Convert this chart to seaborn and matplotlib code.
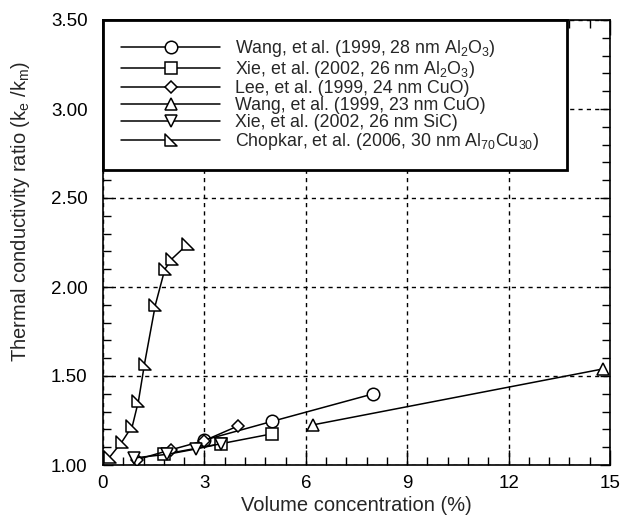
import matplotlib
matplotlib.use("Agg")
import matplotlib.pyplot as plt
from matplotlib.ticker import MultipleLocator, FormatStrFormatter
from matplotlib.path import Path
import seaborn as sns
import pandas as pd

# ---- data ----
wang_al2o3_x = [3.0, 5.0, 8.0]
wang_al2o3_y = [1.14, 1.245, 1.40]
xie_al2o3_x = [1.8, 3.5, 5.0]
xie_al2o3_y = [1.06, 1.12, 1.175]
lee_cuo_x = [1.0, 2.0, 3.0, 4.0]
lee_cuo_y = [1.03, 1.085, 1.137, 1.22]
wang_cuo_x = [6.2, 14.8]
wang_cuo_y = [1.225, 1.54]
xie_sic_x = [0.93, 1.9, 2.75, 3.5]
xie_sic_y = [1.04, 1.06, 1.09, 1.12]
chopkar_x = [0.2, 0.56, 0.87, 1.05, 1.23, 1.55, 1.83, 2.05, 2.5]
chopkar_y = [1.045, 1.13, 1.22, 1.36, 1.57, 1.90, 2.10, 2.16, 2.24]

labels = [
    r"Wang, et al. (1999, 28 nm Al$\mathregular{_2}$O$\mathregular{_3}$)",
    r"Xie, et al. (2002, 26 nm Al$\mathregular{_2}$O$\mathregular{_3}$)",
    "Lee, et al. (1999, 24 nm CuO)",
    "Wang, et al. (1999, 23 nm CuO)",
    "Xie, et al. (2002, 26 nm SiC)",
    r"Chopkar, et al. (2006, 30 nm Al$\mathregular{_{70}}$Cu$\mathregular{_{30}}$)",
]
xs = [wang_al2o3_x, xie_al2o3_x, lee_cuo_x, wang_cuo_x, xie_sic_x, chopkar_x]
ys = [wang_al2o3_y, xie_al2o3_y, lee_cuo_y, wang_cuo_y, xie_sic_y, chopkar_y]

x_ticks = [0, 3, 6, 9, 12, 15]
y_ticks = [1.00, 1.50, 2.00, 2.50, 3.00, 3.50]

# ---- style ----
sns.set_style("ticks")
plt.rcParams["font.family"] = ["Liberation Sans", "DejaVu Sans"]
plt.rcParams["mathtext.fontset"] = "custom"
plt.rcParams["mathtext.rm"] = "Liberation Sans"
plt.rcParams["mathtext.it"] = "Liberation Sans:italic"

right_tri = Path([(-1, 1), (-1, -1), (1, -1), (-1, 1)],
                 [Path.MOVETO, Path.LINETO, Path.LINETO, Path.CLOSEPOLY])
markers = ["o", "s", "D", "^", "v", right_tri]
msizes = [9, 8.5, 6.5, 9, 9, 8]

fig = plt.figure(figsize=(6.22, 5.18), dpi=100)
ax = fig.add_axes([103 / 622, 1 - 465 / 518, 507 / 622, 445 / 518])

frames = []
for lab, x, y in zip(labels, xs, ys):
    frames.append(pd.DataFrame({"x": x, "y": y, "series": lab}))
df = pd.concat(frames, ignore_index=True)

for lab, m, ms in zip(labels, markers, msizes):
    sub = df[df["series"] == lab]
    sns.lineplot(data=sub, x="x", y="y", ax=ax, color="black", linewidth=1.1,
                 marker=m, markersize=ms, markerfacecolor="white",
                 markeredgecolor="black", markeredgewidth=1.1,
                 sort=False, label=lab, zorder=3)

ax.set_xlim(0, 15)
ax.set_ylim(1.0, 3.5)
ax.set_xticks(x_ticks)
ax.set_yticks(y_ticks)
ax.yaxis.set_major_formatter(FormatStrFormatter("%.2f"))
ax.xaxis.set_minor_locator(MultipleLocator(0.6))
ax.yaxis.set_minor_locator(MultipleLocator(0.1))

ax.grid(True, which="major", color="black", linestyle=(0, (3, 3)), linewidth=1.0)
ax.tick_params(which="both", direction="in", top=True, right=True, colors="black",
               labelsize=13.5, width=1.0)
ax.tick_params(axis="x", which="major", length=11, pad=7)
ax.tick_params(axis="x", which="minor", length=5.5)
ax.tick_params(axis="y", which="major", length=7, pad=11)
ax.tick_params(axis="y", which="minor", length=6)
for s in ax.spines.values():
    s.set_linewidth(1.2)
    s.set_color("black")

ax.set_xlabel("Volume concentration (%)", fontsize=14.5, labelpad=3)
ax.set_ylabel(r"Thermal conductivity ratio (k$\mathregular{_e}$ /k$\mathregular{_m}$)",
              fontsize=14.5)
ax.yaxis.set_label_coords(-0.14, 0.571)

leg = ax.legend(loc="upper left", bbox_to_anchor=(0, 0.0, 0.915, 1.0), mode="expand",
                borderaxespad=0, fontsize=12.8, handlelength=5.6, handletextpad=0.85,
                borderpad=1.0, labelspacing=0.0, fancybox=False, framealpha=1,
                edgecolor="black")
leg.get_frame().set_linewidth(2.0)
leg.set_zorder(5)

fig.savefig("out.png", dpi=100)
